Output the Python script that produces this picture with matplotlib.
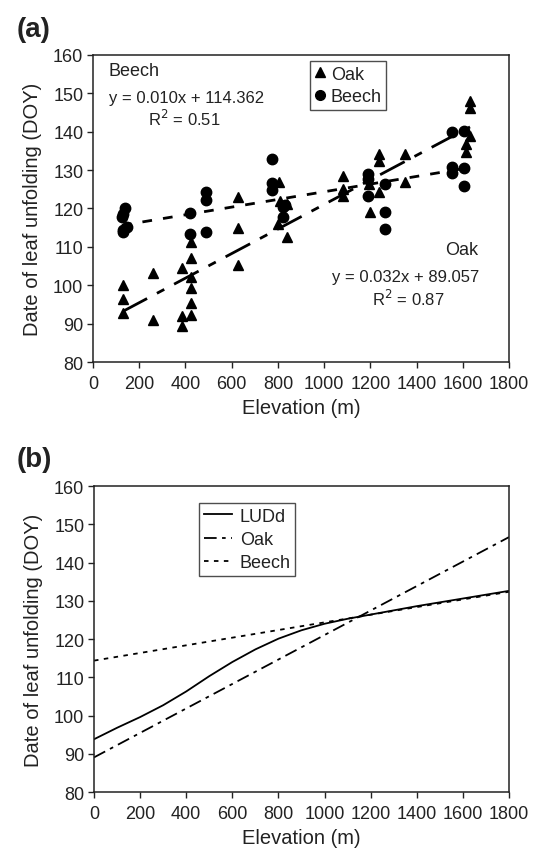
import numpy as np
import matplotlib
matplotlib.use('Agg')
import matplotlib.pyplot as plt
from matplotlib.lines import Line2D

plt.rcParams['font.family'] = ['Liberation Sans', 'DejaVu Sans']

# panel (a): observed leaf unfolding dates
oak_x = [128, 128, 128, 258, 258, 387, 387, 387, 424, 424, 424, 424, 424, 424,
         626, 626, 626, 806, 802, 841, 809, 838, 1083, 1083, 1083, 1199, 1195,
         1237, 1237, 1237, 1350, 1350, 1631, 1631, 1631, 1615, 1615]
oak_y = [100.1, 96.4, 92.8, 103.2, 91.0, 104.4, 91.9, 89.5, 111.2, 107.0, 102.2, 99.4, 95.3, 92.3,
         122.9, 114.9, 105.3, 126.8, 115.9, 112.6, 122.0, 121.1, 128.5, 125.0, 123.3, 119.0, 126.5,
         134.2, 132.4, 124.2, 134.2, 126.8, 148.0, 146.3, 138.9, 136.8, 134.6]

beech_x = [140, 128, 125, 128, 146, 128, 420, 420, 488, 488, 488, 773, 773, 773,
           823, 823, 830, 1191, 1191, 1191, 1264, 1264, 1264, 1552, 1552, 1552, 1603, 1605, 1605]
beech_y = [120.0, 118.5, 117.7, 113.8, 115.1, 114.5, 118.7, 113.3, 124.3, 122.3, 113.9, 133.0, 126.6, 124.8,
           117.9, 120.3, 121.0, 129.0, 127.6, 123.3, 126.4, 119.0, 114.7, 139.8, 130.7, 129.3, 140.2, 130.5, 125.9]

# regression coefficients (slope, intercept)
oak_fit = [0.032, 89.057]
beech_fit = [0.010, 114.362]

# panel (b): modelled LUDd curve
elev_b = [0, 100, 200, 300, 400, 500, 600, 700, 800, 900, 1000, 1100, 1200, 1400, 1600, 1800]
ludd = [93.8, 96.8, 99.6, 102.7, 106.3, 110.3, 114.0, 117.3, 120.1, 122.3, 124.0, 125.3, 126.4, 128.6, 130.6, 132.6]
line_x = [0, 1800]

txt = '#222222'
fig = plt.figure(figsize=(5.39, 8.53), dpi=100)
ax1 = fig.add_axes([0.1725, 0.5744, 0.772, 0.360])
ax2 = fig.add_axes([0.1744, 0.0703, 0.770, 0.3587])

for ax in (ax1, ax2):
    ax.set_xlim(0, 1800)
    ax.set_ylim(80, 160)
    ax.set_xticks(np.arange(0, 1801, 200))
    ax.set_yticks(np.arange(80, 161, 10))
    ax.tick_params(direction='out', length=4, width=1, labelsize=13, colors=txt, pad=3)
    ax.tick_params(axis='x', pad=5)
    for s in ax.spines.values():
        s.set_linewidth(1.1)
        s.set_color(txt)
    ax.set_xlabel('Elevation (m)', fontsize=14.5, color=txt, labelpad=5)
    ax.set_ylabel('Date of leaf unfolding (DOY)', fontsize=14.5, color=txt, labelpad=8)

# (a)
ax1.plot(oak_x, oak_y, linestyle='none', marker='^', ms=7.5, color='black', zorder=3)
ax1.plot(beech_x, beech_y, linestyle='none', marker='o', ms=7.5, color='black', zorder=3)
xo = np.array([min(oak_x), max(oak_x)])
xb = np.array([min(beech_x), max(beech_x)])
ax1.plot(xo, np.polyval(oak_fit, xo), color='black', lw=2, dashes=(10, 4, 3, 4), zorder=2)
ax1.plot(xb, np.polyval(beech_fit, xb), color='black', lw=2, dashes=(3.5, 4), zorder=2)

leg1 = ax1.legend([Line2D([], [], ls='none', marker='^', ms=7, color='black'),
                   Line2D([], [], ls='none', marker='o', ms=7, color='black')],
                  ['Oak', 'Beech'], loc='upper left', bbox_to_anchor=(0.522, 0.98),
                  frameon=True, fancybox=False, edgecolor=txt, fontsize=13,
                  handlelength=0.6, handletextpad=0.3, borderpad=0.25, labelspacing=0.3,
                  borderaxespad=0)
leg1.get_frame().set_linewidth(1.0)
for t in leg1.get_texts():
    t.set_color(txt)

ax1.text(0.038, 0.949, 'Beech', transform=ax1.transAxes, fontsize=13, va='center', ha='left', color=txt)
ax1.text(0.038, 0.862, 'y = 0.010x + 114.362', transform=ax1.transAxes, fontsize=12, va='center', ha='left', color=txt)
ax1.text(0.22, 0.794, r'R$^2$ = 0.51', transform=ax1.transAxes, fontsize=12, va='center', ha='center', color=txt)
ax1.text(0.925, 0.368, 'Oak', transform=ax1.transAxes, fontsize=13, va='center', ha='right', color=txt)
ax1.text(0.928, 0.28, 'y = 0.032x + 89.057', transform=ax1.transAxes, fontsize=12, va='center', ha='right', color=txt)
ax1.text(0.757, 0.208, r'R$^2$ = 0.87', transform=ax1.transAxes, fontsize=12, va='center', ha='center', color=txt)

# (b)
ax2.plot(elev_b, ludd, color='black', lw=1.3, label='LUDd')
lx = np.array(line_x)
ax2.plot(lx, np.polyval(oak_fit, lx), color='black', lw=1.3, dashes=(7, 3, 2, 3), label='Oak')
ax2.plot(lx, np.polyval(beech_fit, lx), color='black', lw=1.3, dashes=(2.5, 3), label='Beech')
leg2 = ax2.legend(loc='upper left', bbox_to_anchor=(0.253, 0.944), frameon=True, fancybox=False,
                  edgecolor=txt, fontsize=13, handlelength=1.6, handletextpad=0.4,
                  borderpad=0.25, labelspacing=0.35, borderaxespad=0)
leg2.get_frame().set_linewidth(1.0)
for t in leg2.get_texts():
    t.set_color(txt)

fig.text(0.03, 0.965, '(a)', fontsize=20, fontweight='bold', va='center', ha='left', color=txt)
fig.text(0.03, 0.461, '(b)', fontsize=20, fontweight='bold', va='center', ha='left', color=txt)

plt.savefig('out.png', dpi=100)
